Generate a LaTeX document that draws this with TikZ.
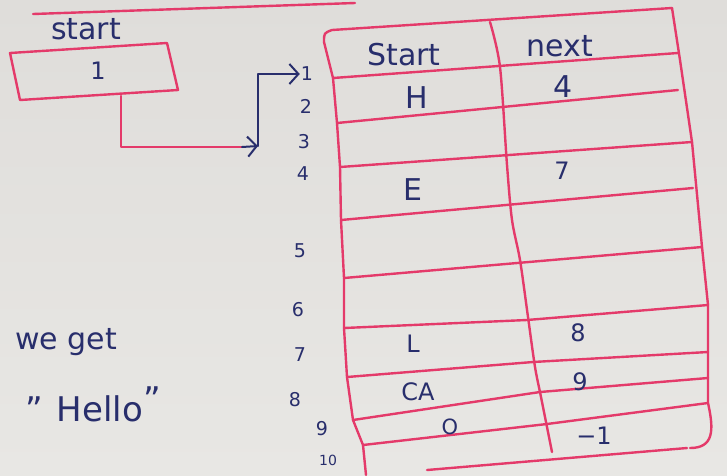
\documentclass[tikz,border=0pt]{standalone}
\usepackage{fontspec}
\setmainfont{DejaVu Sans}
\usetikzlibrary{arrows.meta}
\definecolor{paper}{RGB}{223,221,218}
\definecolor{paperlight}{RGB}{232,231,228}
\definecolor{inkred}{RGB}{228,58,106}
\definecolor{inkblue}{RGB}{40,46,108}
\begin{document}
\begin{tikzpicture}[x=1pt,y=-1pt,
  redline/.style={draw=inkred,line width=2.4pt,line cap=round,line join=round},
  blueline/.style={draw=inkblue,line width=2pt,line cap=round,line join=round},
  tipbarb/.style={-{Straight Barb[length=9pt,width=20pt,line width=2pt]}},
  cellbig/.style={text=inkblue,inner sep=0pt,font=\fontsize{30}{30}\selectfont},
  cellmid/.style={text=inkblue,inner sep=0pt,font=\fontsize{24}{24}\selectfont},
  cellsmall/.style={text=inkblue,inner sep=0pt,font=\fontsize{21}{21}\selectfont},
  rowlab/.style={text=inkblue,inner sep=1pt,font=\fontsize{19}{19}\selectfont},
  note/.style={text=inkblue,inner sep=0pt,font=\fontsize{30}{30}\selectfont}]
% paper
\shade[top color=paper,bottom color=paperlight] (0,0) rectangle (727,475);
\useasboundingbox (0,0) rectangle (727,475);
% top ruled line
\draw[redline] (33,14) -- (355,3);
% start pointer box
\node[note] (startlbl) at (86,29) {start};
\draw[redline] (10,53) -- (167,43) -- (178,90) -- (20,100) -- cycle;
\node[cellmid] (startval) at (98,71) {1};
% row index labels
\node[rowlab] (r1) at (307,74) {1};
\node[rowlab] (r2) at (306,106) {2};
\node[rowlab] (r3) at (304,142) {3};
\node[rowlab] (r4) at (303,174) {4};
\node[rowlab] (r5) at (300,251) {5};
\node[rowlab] (r6) at (298,310) {6};
\node[rowlab] (r7) at (300,355) {7};
\node[rowlab] (r8) at (295,400) {8};
\node[rowlab] (r9) at (322,429) {9};
\node[rowlab,font=\fontsize{14}{14}\selectfont] (r10) at (328,460) {10};
% connector from start box to row 1
\coordinate (c0) at (121,96);
\coordinate (c1) at (242,147);
\coordinate (bend) at (258,146);
\draw[redline] (c0) |- (c1);
\draw[blueline,tipbarb] (c1) -- (bend);
\draw[blueline,tipbarb] (bend) |- (r1.west);
% table frame
\draw[redline] (324,42) .. controls (324,33) .. (332,30) -- (672,8);
\draw[redline] (672,8) -- (680,60) -- (692,142) -- (702,247) -- (708,305)
  -- (708,352) -- (708,378) -- (708,403) .. controls (714,430) and (714,448) .. (690,448);
\draw[redline] (324,42) -- (333,78) -- (337,123) -- (340,167) -- (341,220)
  -- (344,278) -- (344,328) -- (347,377) -- (353,420) -- (363,445) -- (366,475);
\draw[redline] plot[smooth] coordinates {(490,22) (500,67) (507,165) (512,220) (520,260) (528,317) (535,367) (541,397) (552,452)};
% row lines
\draw[redline] (333,78) -- (678,53);
\draw[redline] (337,123) -- (678,90);
\draw[redline] (340,167) -- (692,142);
\draw[redline] (341,220) -- (693,188);
\draw[redline] (344,278) -- (702,247);
\draw[redline] (344,328) -- (527,320) -- (708,305);
\draw[redline] (347,377) -- (533,362) -- (708,352);
\draw[redline] (353,420) -- (540,392) -- (708,378);
\draw[redline] (363,445) -- (547,424) -- (708,403);
\draw[redline] (427,470) -- (687,448);
% header
\node[note] (hstart) at (404,55) {Start};
\node[note] (hnext) at (560,46) {next};
% cells
\node[cellbig] (vH) at (417,98) {H};
\node[cellbig] (n4) at (563,87) {4};
\node[cellbig] (vE) at (413,190) {E};
\node[cellmid] (n7) at (562,171) {7};
\node[cellmid] (vL) at (413,344) {L};
\node[cellmid] (n8) at (578,333) {8};
\node[cellmid] (vCA) at (418,392) {CA};
\node[cellmid] (n9) at (580,382) {9};
\node[cellsmall] (vO) at (450,427) {O};
\node[cellmid] (nm1) at (594,436) {−1};
% result note
\node[note] (weget) at (66,342) {we get};
\node[note,font=\fontsize{34}{34}\selectfont] (hello) at (93,404) {"\hspace{14pt}Hello\raisebox{10pt}{"}};
\end{tikzpicture}
\end{document}
